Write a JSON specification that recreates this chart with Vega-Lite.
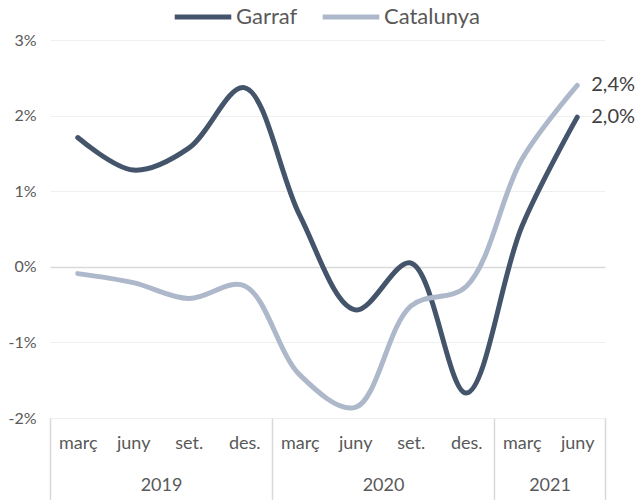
{
  "$schema": "https://vega.github.io/schema/vega-lite/v6.json",
  "width": 555,
  "height": 378,
  "autosize": "none",
  "padding": {"left": 50, "top": 40, "right": 36, "bottom": 82},
  "config": {
    "view": {"stroke": null},
    "font": "Lato",
    "axis": {"labelFont": "Lato", "labelColor": "#595959", "labelFontSize": 16}
  },
  "data": {
    "values": [
      {"i": 0, "s": "Garraf", "v": 1.71},
      {"i": 1, "s": "Garraf", "v": 1.28},
      {"i": 2, "s": "Garraf", "v": 1.57},
      {"i": 3, "s": "Garraf", "v": 2.37},
      {"i": 4, "s": "Garraf", "v": 0.68},
      {"i": 5, "s": "Garraf", "v": -0.57},
      {"i": 6, "s": "Garraf", "v": 0.05},
      {"i": 7, "s": "Garraf", "v": -1.67},
      {"i": 8, "s": "Garraf", "v": 0.53},
      {"i": 9, "s": "Garraf", "v": 1.98},
      {"i": 0, "s": "Catalunya", "v": -0.09},
      {"i": 1, "s": "Catalunya", "v": -0.21},
      {"i": 2, "s": "Catalunya", "v": -0.42},
      {"i": 3, "s": "Catalunya", "v": -0.25},
      {"i": 4, "s": "Catalunya", "v": -1.43},
      {"i": 5, "s": "Catalunya", "v": -1.86},
      {"i": 6, "s": "Catalunya", "v": -0.52},
      {"i": 7, "s": "Catalunya", "v": -0.26},
      {"i": 8, "s": "Catalunya", "v": 1.42},
      {"i": 9, "s": "Catalunya", "v": 2.4}
    ]
  },
  "layer": [
    {
      "layer": [
        {
          "mark": {"type": "line", "interpolate": "catmull-rom", "strokeWidth": 5, "strokeCap": "round"},
          "encoding": {
            "x": {
              "field": "i", "type": "quantitative",
              "scale": {"domain": [-0.5, 9.5], "nice": false, "zero": false},
              "axis": {
                "title": null, "orient": "bottom", "values": [0, 1, 2, 3, 4, 5, 6, 7, 8, 9],
                "labelExpr": "['març','juny','set.','des.'][datum.value % 4]",
                "labelFontSize": 18,
                "ticks": false, "domain": false, "grid": false, "labelPadding": 16
              }
            },
            "y": {
              "field": "v", "type": "quantitative",
              "scale": {"domain": [-2, 3], "nice": false, "zero": false},
              "axis": {
                "title": null, "values": [-2, -1, 0, 1, 2, 3], "labelExpr": "datum.value + '%'",
                "ticks": false, "domain": false, "labelPadding": 14,
                "grid": true,
                "gridColor": {"condition": {"test": "datum.value === 0", "value": "#d9d9d9"}, "value": "#efefef"},
                "gridWidth": {"condition": {"test": "datum.value === 0", "value": 1.5}, "value": 1}
              }
            },
            "color": {
              "field": "s", "type": "nominal",
              "scale": {"domain": ["Garraf", "Catalunya"], "range": ["#44546A", "#ADB9CA"]},
              "legend": {
                "title": null, "orient": "none", "direction": "horizontal",
                "legendX": 122, "legendY": -54, "padding": 0,
                "symbolType": "stroke", "symbolSize": 3200, "symbolStrokeWidth": 5,
                "labelFontSize": 22, "labelColor": "#595959", "labelFont": "Lato",
                "labelOffset": 2, "columnPadding": 14
              }
            }
          }
        },
        {
          "transform": [
            {"filter": "datum.i === 9"},
            {"calculate": "replace(format(datum.v, '.1f'), '.', ',') + '%'", "as": "lab"}
          ],
          "mark": {"type": "text", "align": "left", "dx": 14, "fontSize": 20, "color": "#404040", "font": "Lato"},
          "encoding": {
            "x": {"field": "i", "type": "quantitative"},
            "y": {"field": "v", "type": "quantitative"},
            "text": {"field": "lab"}
          }
        }
      ]
    },
    {
      "mark": {"type": "point", "opacity": 0},
      "encoding": {
        "x": {
          "field": "i", "type": "quantitative",
          "scale": {"domain": [-0.5, 9.5], "nice": false, "zero": false},
          "axis": {
            "title": null, "orient": "bottom", "values": [1.5, 5.5, 8.5],
            "labelExpr": "datum.value === 1.5 ? '2019' : datum.value === 5.5 ? '2020' : '2021'",
            "labelFontSize": 18,
            "ticks": false, "domain": false, "grid": false, "labelPadding": 58
          }
        },
        "y": {"field": "v", "type": "quantitative"}
      }
    },
    {
      "mark": {"type": "point", "opacity": 0},
      "encoding": {
        "x": {
          "field": "i", "type": "quantitative",
          "scale": {"domain": [-0.5, 9.5], "nice": false, "zero": false},
          "axis": {
            "title": null, "orient": "bottom", "values": [-0.5, 3.5, 7.5, 9.5],
            "labels": false, "ticks": true, "tickSize": 82, "tickColor": "#d9d9d9", "tickWidth": 1.5,
            "domain": false, "grid": false
          }
        },
        "y": {"field": "v", "type": "quantitative"}
      }
    }
  ],
  "resolve": {"scale": {"x": "independent"}}
}
